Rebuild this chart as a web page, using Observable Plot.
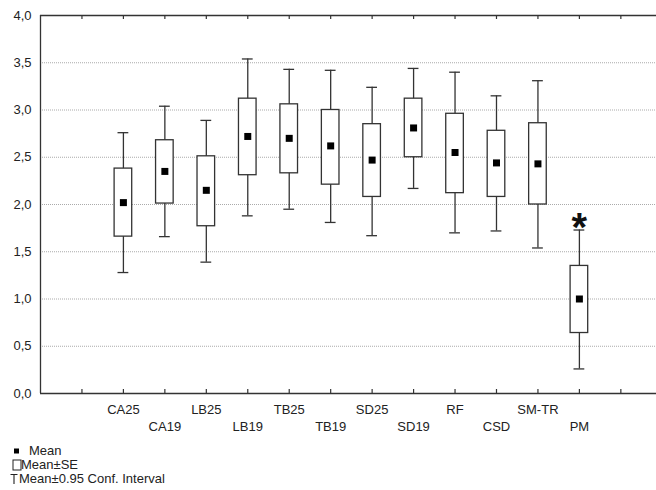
<!DOCTYPE html>
<html>
<head>
<meta charset="utf-8">
<script src="https://cdn.jsdelivr.net/npm/d3@7"></script>
<script src="https://cdn.jsdelivr.net/npm/@observablehq/plot@0.6"></script>
<style>
  html, body { margin: 0; padding: 0; background: #fff; overflow: hidden; }
  #wrap { position: relative; width: 656px; height: 490px; font-family: "Liberation Sans", Arial, sans-serif; color: #222; }
  #chart svg { display: block; }
  .leg { position: absolute; left: 0; width: 300px; height: 13px; font-size: 13px; line-height: 13px; white-space: nowrap; }
  .leg svg { position: absolute; }
  .leg span { position: absolute; top: 0; height: 13px; line-height: 13px; }
</style>
</head>
<body>
<div id="wrap">
  <div id="chart"></div>
  <div id="legend"></div>
</div>
<script>
// ---- data ----
const categories = ["CA25","CA19","LB25","LB19","TB25","TB19","SD25","SD19","RF","CSD","SM-TR","PM"];
const means  = [2.02, 2.35, 2.15, 2.72, 2.70, 2.62, 2.47, 2.81, 2.55, 2.44, 2.43, 1.00];
const seLow  = [1.66, 2.01, 1.77, 2.31, 2.33, 2.21, 2.08, 2.50, 2.12, 2.08, 2.00, 0.64];
const seHigh = [2.38, 2.68, 2.51, 3.12, 3.06, 3.00, 2.85, 3.12, 2.96, 2.78, 2.86, 1.35];
const ciLow  = [1.28, 1.66, 1.39, 1.88, 1.95, 1.81, 1.67, 2.17, 1.70, 1.72, 1.54, 0.26];
const ciHigh = [2.76, 3.04, 2.89, 3.54, 3.43, 3.42, 3.24, 3.44, 3.40, 3.15, 3.31, 1.73];
const yTicks = [0, 0.5, 1, 1.5, 2, 2.5, 3, 3.5, 4];
const xTickPositions = [0,1,2,3,4,5,6,7,8,9,10,11,12,13];
const marked = ["PM"];           // group flagged with an asterisk
const legendLabels = ["Mean", "Mean\u00B1SE", "Mean\u00B10.95 Conf. Interval"];

const rows = categories.map((c, k) => ({
  cat: c, pos: k + 1, row: k % 2,
  mean: means[k], seLo: seLow[k], seHi: seHigh[k], ciLo: ciLow[k], ciHi: ciHigh[k]
}));

const ink = "#333";
const chart = Plot.plot({
  width: 656,
  height: 442,
  marginLeft: 40,
  marginRight: 0,
  marginTop: 15,
  marginBottom: 49,
  style: { fontFamily: '"Liberation Sans", Arial, sans-serif', fontSize: "13px", color: "#222", background: "#fff" },
  x: { type: "linear", domain: [-1, 13.86], axis: null },
  y: { domain: [0, 4], axis: null },
  marks: [
    // dotted grid
    Plot.ruleY(yTicks.filter(v => v > 0 && v < 4), { stroke: "#aaa", strokeWidth: 1, strokeDasharray: "1,1" }),
    // frame lines
    Plot.ruleY([0, 4], { stroke: ink, strokeWidth: 1.3 }),
    Plot.ruleX([-1], { stroke: ink, strokeWidth: 1.3 }),
    // inward ticks (top and bottom)
    Plot.tickX(xTickPositions, { x: d => d, stroke: ink, strokeWidth: 1.2, insetBottom: 374 }),
    Plot.tickX(xTickPositions, { x: d => d, stroke: ink, strokeWidth: 1.2, insetTop: 374 }),
    // y tick labels
    Plot.axisY({ ticks: yTicks, tickSize: 0, tickPadding: 9, fontSize: 13, label: null,
                 tickFormat: d => d.toFixed(1).replace(".", ",") }),
    // whiskers (95% CI)
    Plot.ruleX(rows, { x: "pos", y1: "ciLo", y2: "ciHi", stroke: ink, strokeWidth: 1.3 }),
    Plot.ruleY(rows, { y: "ciLo", x1: "pos", x2: "pos", insetLeft: -5.4, insetRight: -5.4, stroke: ink, strokeWidth: 1.3 }),
    Plot.ruleY(rows, { y: "ciHi", x1: "pos", x2: "pos", insetLeft: -5.4, insetRight: -5.4, stroke: ink, strokeWidth: 1.3 }),
    // SE boxes
    Plot.rect(rows, { x1: "pos", x2: "pos", y1: "seLo", y2: "seHi", insetLeft: -8.8, insetRight: -8.8,
                      fill: "#fff", stroke: ink, strokeWidth: 1.3 }),
    // means
    Plot.dot(rows, { x: "pos", y: "mean", symbol: "square", r: 3.95, fill: "#000", stroke: "none" }),
    // asterisk
    Plot.text(rows.filter(d => marked.includes(d.cat)), { x: "pos", y: "ciHi", text: () => "*", dy: -2,
              fontSize: 40, fontWeight: "bold", fill: "#111", textAnchor: "middle" }),
    // category labels, staggered in two rows
    Plot.text(rows.filter(d => d.row === 0), { x: "pos", y: 0, text: "cat", dy: 16.5,
                      fontSize: 13, fill: "#222", textAnchor: "middle" }),
    Plot.text(rows.filter(d => d.row === 1), { x: "pos", y: 0, text: "cat", dy: 33.5,
                      fontSize: 13, fill: "#222", textAnchor: "middle" })
  ]
});
document.getElementById("chart").appendChild(chart);

// legend below the plot
const legend = document.getElementById("legend");
const icons = [
  { top: 444, textLeft: 29, svg: '<svg width="8" height="8" style="left:13px;top:3px"><rect x="1" y="1.5" width="5" height="5" fill="#000"/></svg>' },
  { top: 458, textLeft: 21, svg: '<svg width="12" height="12" style="left:12px;top:1px"><rect x="1" y="1" width="8" height="10" fill="none" stroke="#222" stroke-width="1"/></svg>' },
  { top: 472, textLeft: 19, svg: '<svg width="10" height="12" style="left:9px;top:1px"><path d="M1.5,1.5H8.5M5,1.5V11" fill="none" stroke="#222" stroke-width="1.1"/></svg>' }
];
legendLabels.forEach((lab, k) => {
  const d = document.createElement("div");
  d.className = "leg";
  d.style.top = icons[k].top + "px";
  d.innerHTML = icons[k].svg;
  const s = document.createElement("span");
  s.textContent = lab;
  s.style.left = icons[k].textLeft + "px";
  d.appendChild(s);
  legend.appendChild(d);
});
</script>
</body>
</html>
